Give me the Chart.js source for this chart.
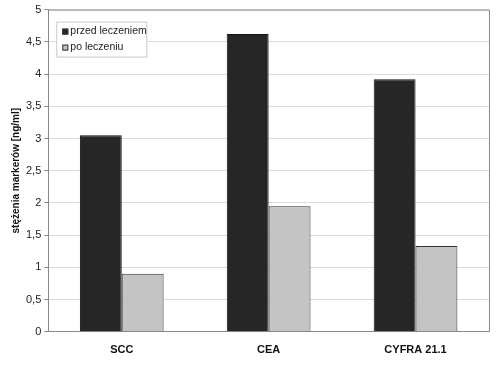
<!DOCTYPE html>
<html>
<head>
    <title>Stężenia markerów</title>
    <script src="https://cdn.jsdelivr.net/npm/chart.js"></script>
    <style>
        html, body { margin: 0; padding: 0; background: #fff; }
        #wrap { width: 502px; height: 369px; }
    </style>
</head>
<body>
<div id="wrap"><canvas id="markerChart"></canvas></div>

<script>
    const categories = ['SCC', 'CEA', 'CYFRA 21.1'];
    const seriesNames = ['przed leczeniem', 'po leczeniu'];
    const beforeValues = [3.05, 4.62, 3.92];
    const afterValues = [0.9, 1.95, 1.33];
    const yTicks = ['0', '0,5', '1', '1,5', '2', '2,5', '3', '3,5', '4', '4,5', '5'];

    // legend drawn inside the plot area, like in the original
    const boxLegend = {
        id: 'boxLegend',
        afterDraw(chart) {
            const ctx = chart.ctx;
            const area = chart.chartArea;
            const x = area.left + 8, y = area.top + 12;
            const w = 90, h = 35;
            ctx.save();
            ctx.fillStyle = '#fff';
            ctx.strokeStyle = '#c8c8c8';
            ctx.lineWidth = 1;
            ctx.fillRect(x, y, w, h);
            ctx.strokeRect(x + 0.5, y + 0.5, w, h);
            ctx.font = '10.5px "Liberation Sans", Arial, sans-serif';
            ctx.textBaseline = 'middle';
            chart.data.datasets.forEach((ds, i) => {
                const ry = y + 10 + i * 16;
                ctx.fillStyle = ds.backgroundColor;
                ctx.fillRect(x + 6, ry - 3, 6, 6);
                ctx.strokeStyle = '#333';
                ctx.strokeRect(x + 6.5, ry - 2.5, 5, 5);
                ctx.fillStyle = '#222';
                ctx.fillText(ds.label, x + 14, ry);
            });
            ctx.restore();
        }
    };

    new Chart(document.getElementById('markerChart'), {
        type: 'bar',
        data: {
            labels: categories,
            datasets: [{
                label: seriesNames[0],
                data: beforeValues,
                backgroundColor: '#262626',
                borderColor: '#111',
                borderWidth: 1,
                categoryPercentage: 0.57,
                barPercentage: 1
            }, {
                label: seriesNames[1],
                data: afterValues,
                backgroundColor: '#c4c4c4',
                borderColor: '#333',
                borderWidth: 1,
                categoryPercentage: 0.57,
                barPercentage: 1
            }]
        },
        options: {
            responsive: true,
            maintainAspectRatio: false,
            animation: false,
            layout: { padding: { left: 10, right: 13, top: 6, bottom: 0 } },
            plugins: {
                legend: { display: false },
                tooltip: { enabled: false }
            },
            scales: {
                x: {
                    grid: { display: false, drawTicks: false },
                    border: { color: '#888' },
                    ticks: {
                        padding: 12,
                        color: '#111',
                        font: { family: '"Liberation Sans", Arial, sans-serif', size: 11, weight: 'bold' }
                    }
                },
                y: {
                    min: 0,
                    max: 5,
                    grid: { color: '#dcdcdc', drawTicks: true, tickLength: 4, tickColor: '#888' },
                    border: { color: '#888' },
                    ticks: {
                        stepSize: 0.5,
                        padding: 3,
                        color: '#222',
                        font: { family: '"Liberation Sans", Arial, sans-serif', size: 11 },
                        callback: (v, i) => yTicks[i]
                    },
                    title: {
                        display: true,
                        text: 'stężenia markerów [ng/ml]',
                        color: '#111',
                        padding: { top: 0, bottom: 1 },
                        font: { family: '"Liberation Sans", Arial, sans-serif', size: 10, weight: 'bold' }
                    }
                }
            }
        },
        plugins: [boxLegend, {
            id: 'frame',
            afterDraw(chart) {
                const a = chart.chartArea, ctx = chart.ctx;
                ctx.save();
                ctx.strokeStyle = '#888';
                ctx.lineWidth = 1;
                ctx.beginPath();
                ctx.moveTo(a.left, a.top + 0.5);
                ctx.lineTo(a.right + 0.5, a.top + 0.5);
                ctx.lineTo(a.right + 0.5, a.bottom);
                ctx.stroke();
                ctx.restore();
            }
        }]
    });
</script>
</body>
</html>
